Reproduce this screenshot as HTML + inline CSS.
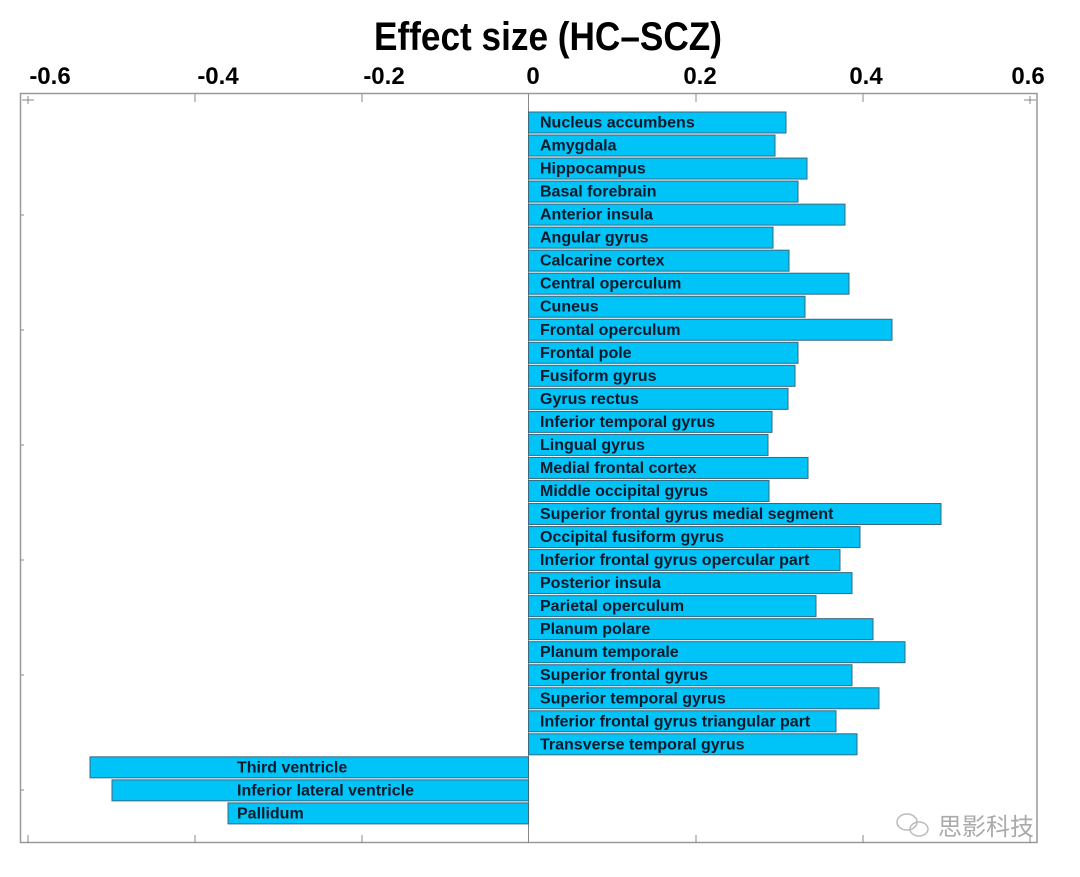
<!DOCTYPE html>
<html><head><meta charset="utf-8"><style>
html,body{margin:0;padding:0;background:#fff;}
svg text{font-family:"Liberation Sans","Noto Sans CJK SC",sans-serif;font-weight:bold;}
</style></head><body>
<svg width="1080" height="872" viewBox="0 0 1080 872" xmlns="http://www.w3.org/2000/svg">
<text x="548" y="50" text-anchor="middle" font-size="40" fill="#000" transform="translate(548,0) scale(0.88,1) translate(-548,0)">Effect size (HC–SCZ)</text>
<g font-size="24" fill="#000" text-anchor="middle">
<text x="50" y="84">-0.6</text><text x="218" y="84">-0.4</text><text x="384" y="84">-0.2</text>
<text x="533" y="84">0</text><text x="700" y="84">0.2</text><text x="866" y="84">0.4</text><text x="1028" y="84">0.6</text>
</g>
<rect x="20.5" y="93.5" width="1016.5" height="749" fill="none" stroke="#999" stroke-width="1.5"/>
<g stroke="#888" stroke-width="1">
<line x1="195" y1="94" x2="195" y2="102"/><line x1="362" y1="94" x2="362" y2="102"/><line x1="696" y1="94" x2="696" y2="102"/><line x1="863" y1="94" x2="863" y2="102"/>
<line x1="28" y1="843" x2="28" y2="835"/><line x1="195" y1="843" x2="195" y2="835"/><line x1="362" y1="843" x2="362" y2="835"/><line x1="696" y1="843" x2="696" y2="835"/><line x1="863" y1="843" x2="863" y2="835"/><line x1="1030" y1="843" x2="1030" y2="835"/>
<line x1="528.5" y1="94" x2="528.5" y2="843"/>
<line x1="22" y1="100" x2="34" y2="100"/><line x1="28" y1="96" x2="28" y2="104"/>
<line x1="1024" y1="100" x2="1036" y2="100"/><line x1="1030" y1="96" x2="1030" y2="104"/>
<line x1="21" y1="215" x2="24" y2="215"/><line x1="21" y1="330" x2="24" y2="330"/><line x1="21" y1="445" x2="24" y2="445"/><line x1="21" y1="560" x2="24" y2="560"/><line x1="21" y1="675" x2="24" y2="675"/><line x1="21" y1="790" x2="24" y2="790"/>
</g>
<g id="bars" fill="#00c3f7" stroke="#3a6a80" stroke-width="1"></g>
<g id="labels" font-size="16" fill="#0b1a2b"></g>
<g fill="none" stroke="#bbb" stroke-width="1.5">
<ellipse cx="907" cy="822" rx="10" ry="8"/><ellipse cx="919" cy="829" rx="9" ry="7"/>
</g>
<text x="938" y="835" font-size="24" fill="#aaa" style="font-weight:normal">思影科技</text>
</svg>
<script>
var d=[["Nucleus accumbens",786],["Amygdala",775],["Hippocampus",807],["Basal forebrain",798],["Anterior insula",845],["Angular gyrus",773],["Calcarine cortex",789],["Central operculum",849],["Cuneus",805],["Frontal operculum",892],["Frontal pole",798],["Fusiform gyrus",795],["Gyrus rectus",788],["Inferior temporal gyrus",772],["Lingual gyrus",768],["Medial frontal cortex",808],["Middle occipital gyrus",769],["Superior frontal gyrus medial segment",941],["Occipital fusiform gyrus",860],["Inferior frontal gyrus opercular part",840],["Posterior insula",852],["Parietal operculum",816],["Planum polare",873],["Planum temporale",905],["Superior frontal gyrus",852],["Superior temporal gyrus",879],["Inferior frontal gyrus triangular part",836],["Transverse temporal gyrus",857],["Third ventricle",90],["Inferior lateral ventricle",112],["Pallidum",228]];
var ns="http://www.w3.org/2000/svg",b=document.getElementById("bars"),l=document.getElementById("labels");
d.forEach(function(e,i){var y=112+i*23.03,x0=528.5,x1=e[1];var r=document.createElementNS(ns,"rect");
var a=Math.min(x0,x1),w=Math.abs(x1-x0);r.setAttribute("x",a);r.setAttribute("y",y);r.setAttribute("width",w);r.setAttribute("height",21);b.appendChild(r);
var t=document.createElementNS(ns,"text");var tx=x1<x0?237:540;t.setAttribute("x",0);t.setAttribute("y",0);
t.setAttribute("transform","translate("+tx+","+(y+15.5)+") scale(1.0,1)");t.textContent=e[0];l.appendChild(t);});
</script>
</body></html>
